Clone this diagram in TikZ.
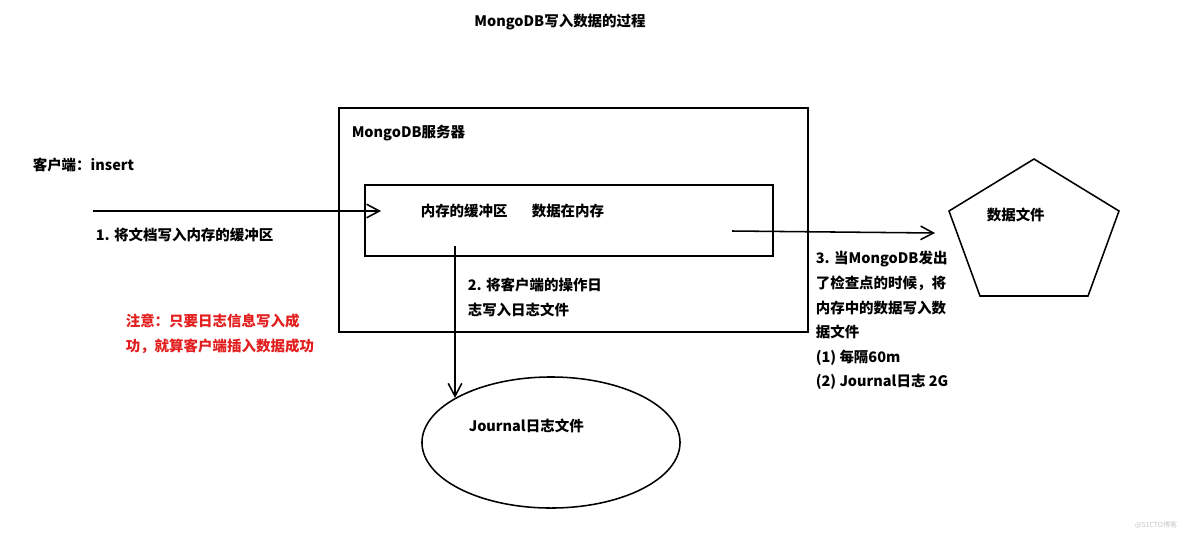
\documentclass[tikz,border=0pt]{standalone}
\usepackage{fontspec}
\setmainfont{Noto Sans CJK SC}
\usetikzlibrary{arrows.meta,shapes.geometric}
\definecolor{notered}{RGB}{226,30,30}
\begin{document}
\begin{tikzpicture}[x=0.025cm,y=-0.025cm,line width=1.1pt,
  txt/.style={font=\fontsize{10.3}{17.5}\selectfont\bfseries,inner sep=0,anchor=west},
  para/.style={txt,align=left,anchor=north west},
  flow/.style={-{Straight Barb[length=3.2mm,width=3.4mm]}}]
\useasboundingbox (0,0) rectangle (1184,535);
\node[txt,anchor=center] (title) at (560,22) {MongoDB写入数据的过程};
% server and buffer
\node[draw,inner sep=0,anchor=north west,minimum width=11.725cm,minimum height=5.6cm] (server) at (338,107) {};
\node[draw,inner sep=0,anchor=north west,minimum width=10.2cm,minimum height=1.775cm] (buffer) at (364,184) {};
\node[txt] (srvlbl) at (351,133) {MongoDB服务器};
\node[txt] (buflbl) at (420,211) {内存的缓冲区};
\node[txt] (memlbl) at (531,211) {数据在内存};
% client
\node[txt] (client) at (32,165) {客户端：insert};
\coordinate (cl) at (93,211);
\coordinate (in) at (381,211);
\draw[flow] (cl) -- (in);
\node[txt] (step1) at (95,235) {1. 将文档写入内存的缓冲区};
% journal
\node[draw,ellipse,minimum width=6.45cm,minimum height=3.275cm] (journal) at (551,442.5) {};
\node[txt] (jrnlbl) at (468,426) {Journal日志文件};
\coordinate (wr) at (455,246);
\draw[flow] (wr) -- (wr |- journal.155);
\node[para] (step2) at (467,277.5) {2. 将客户端的操作日\\志写入日志文件};
% data file
\draw (1034,159) -- (1119,211) -- (1088,296) -- (980,296) -- (949,211) -- cycle;
\node[txt] (dfile) at (986,215) {数据文件};
\coordinate (out) at (732,231);
\coordinate (dfin) at (935,233);
\draw[flow] (out) -- (dfin);
\node[para] (step3) at (815,250.5) {3. 当MongoDB发出\\了检查点的时候，将\\内存中的数据写入数\\据文件\\(1) 每隔60m\\(2) Journal日志 2G};
\node[para,text=notered] (note) at (125,313.5) {注意：只要日志信息写入成\\功，就算客户端插入数据成功};
\node[font=\fontsize{5}{6}\selectfont,text=gray!45,inner sep=0,anchor=east] (mark) at (1178,525) {@51CTO博客};
\end{tikzpicture}
\end{document}
